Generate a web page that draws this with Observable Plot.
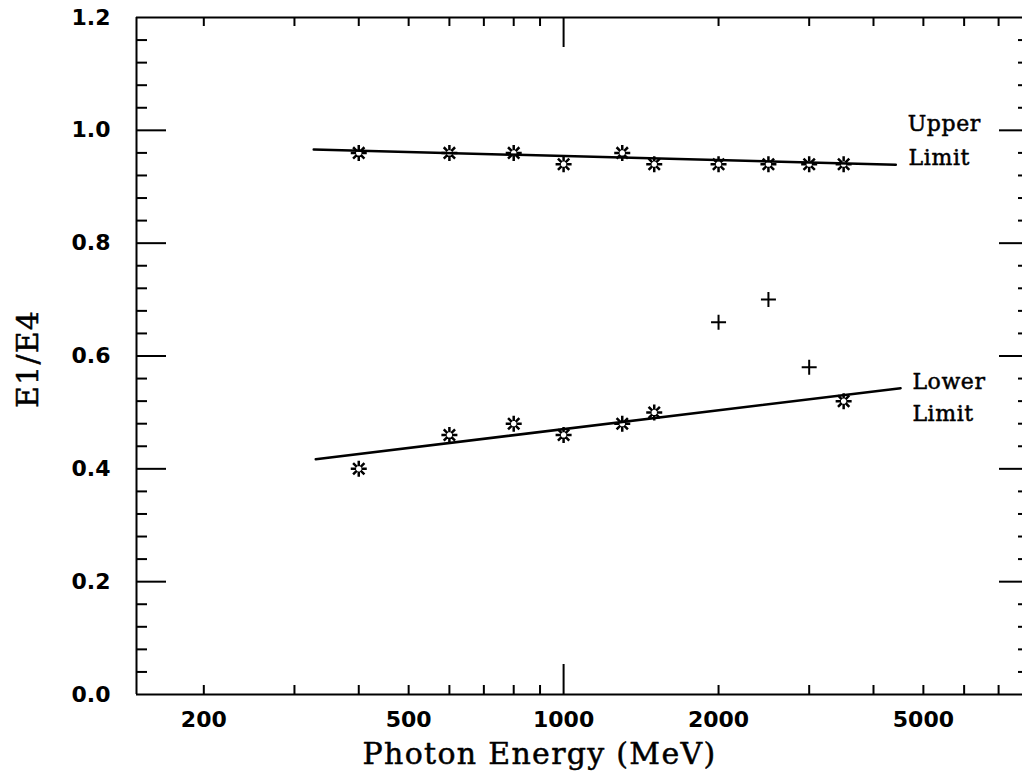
<!DOCTYPE html>
<html><head><meta charset="utf-8">
<script src="https://cdn.jsdelivr.net/npm/d3@7"></script>
<script src="https://cdn.jsdelivr.net/npm/@observablehq/plot@0.6"></script>
<style>html,body{margin:0;padding:0;background:#fff;overflow:hidden;}</style>
</head><body><div id="chart"></div>
<script>
// Data
const upperEnergy = [400, 600, 800, 1000, 1300, 1500, 2000, 2500, 3000, 3500];
const upperRatio  = [0.96, 0.96, 0.96, 0.94, 0.96, 0.94, 0.94, 0.94, 0.94, 0.94];
const lowerEnergy = [400, 600, 800, 1000, 1300, 1500, 3500];
const lowerRatio  = [0.40, 0.46, 0.48, 0.46, 0.48, 0.50, 0.52];
const plusEnergy  = [2000, 2500, 3000];
const plusRatio   = [0.66, 0.70, 0.58];
const upperFitEnergy = [327, 4420];
const upperFitRatio  = [0.966, 0.939];
const lowerFitEnergy = [330, 4515];
const lowerFitRatio  = [0.417, 0.543];
const xDomain = [148, 7790];
const yDomain = [0, 1.2];
const xTickLabels = [200, 500, 1000, 2000, 5000];
const yTickLabels = [0, 0.2, 0.4, 0.6, 0.8, 1.0, 1.2];
const xMinorTicks = [200, 300, 400, 500, 600, 700, 800, 900, 2000, 3000, 4000, 5000, 6000, 7000];
const xMajorTicks = [1000];
const yMinorTicks = [0.04, 0.08, 0.12, 0.16, 0.24, 0.28, 0.32, 0.36, 0.44, 0.48, 0.52, 0.56,
                     0.64, 0.68, 0.72, 0.76, 0.84, 0.88, 0.92, 0.96, 1.04, 1.08, 1.12, 1.16];
const yMajorTicks = [0.2, 0.4, 0.6, 0.8, 1.0];
const labelText   = ["Upper", "Limit", "Lower", "Limit"];
const labelEnergy = [4660, 4680, 4760, 4760];
const labelRatio  = [0.998, 0.938, 0.542, 0.484];
const xTitle = "Photon Energy (MeV)";
const yTitle = "E1/E4";

const W = 1022, H = 775, ML = 136, MR = 0, MT = 17, MB = 81;
const PW = W - ML - MR, PH = H - MT - MB;

const upper = upperEnergy.map((e, i) => ({e, r: upperRatio[i]}));
const lower = lowerEnergy.map((e, i) => ({e, r: lowerRatio[i]}));
const plusPts = plusEnergy.map((e, i) => ({e, r: plusRatio[i]}));
const upperFit = upperFitEnergy.map((e, i) => ({e, r: upperFitRatio[i]}));
const lowerFit = lowerFitEnergy.map((e, i) => ({e, r: lowerFitRatio[i]}));
const labels = labelText.map((t, i) => ({t, e: labelEnergy[i], r: labelRatio[i]}));

const asterisk = {draw(ctx, size) {
  const r = Math.sqrt(size / Math.PI), r0 = r * 0.33;
  for (let k = 0; k < 8; k++) {
    const a = k * Math.PI / 4;
    ctx.moveTo(r0 * Math.cos(a), r0 * Math.sin(a));
    ctx.lineTo(r * Math.cos(a), r * Math.sin(a));
  }
}};
const plusSym = {draw(ctx, size) {
  const r = Math.sqrt(size / Math.PI);
  ctx.moveTo(-r, 0); ctx.lineTo(r, 0);
  ctx.moveTo(0, -r); ctx.lineTo(0, r);
}};

const serif = "DejaVu Serif";
const ink = {stroke: "black", strokeWidth: 2};

const chart = Plot.plot({
  width: W, height: H,
  marginLeft: ML, marginRight: MR, marginTop: MT, marginBottom: MB,
  style: {fontFamily: "DejaVu Sans", fontSize: "22px", fontWeight: "bold", maxWidth: "none", background: "#fff", color: "#000"},
  x: {type: "log", domain: xDomain, ticks: xTickLabels, tickSize: 0, tickPadding: 17, tickFormat: d => String(d), label: null},
  y: {domain: yDomain, ticks: yTickLabels, tickSize: 0, tickPadding: 26, tickFormat: d => d.toFixed(1), label: null},
  marks: [
    // frame: left, bottom, top (right edge lies beyond the picture)
    Plot.ruleX([xDomain[0]], {...ink}),
    Plot.ruleY(yDomain, {...ink}),
    // x ticks (inside, bottom and top)
    Plot.tickX(xMinorTicks, {x: d => d, insetTop: PH - 9, ...ink}),
    Plot.tickX(xMinorTicks, {x: d => d, insetBottom: PH - 9, ...ink}),
    Plot.tickX(xMajorTicks, {x: d => d, insetTop: PH - 30, ...ink}),
    Plot.tickX(xMajorTicks, {x: d => d, insetBottom: PH - 30, ...ink}),
    // y ticks (inside, left and right)
    Plot.tickY(yMinorTicks, {y: d => d, insetRight: PW - 11, ...ink}),
    Plot.tickY(yMinorTicks, {y: d => d, insetLeft: PW - 4, ...ink}),
    Plot.tickY(yMajorTicks, {y: d => d, insetRight: PW - 30, ...ink}),
    Plot.tickY(yMajorTicks, {y: d => d, insetLeft: PW - 23, ...ink}),
    // fits
    Plot.line(upperFit, {x: "e", y: "r", stroke: "black", strokeWidth: 2.5}),
    Plot.line(lowerFit, {x: "e", y: "r", stroke: "black", strokeWidth: 2.5}),
    // points
    Plot.dot(upper, {x: "e", y: "r", symbol: asterisk, r: 8, fill: "none", stroke: "black", strokeWidth: 2.5}),
    Plot.dot(lower, {x: "e", y: "r", symbol: asterisk, r: 8, fill: "none", stroke: "black", strokeWidth: 2.5}),
    Plot.dot(plusPts, {x: "e", y: "r", symbol: plusSym, r: 7.5, fill: "none", stroke: "black", strokeWidth: 2}),
    // annotations and titles
    Plot.text(labels, {x: "e", y: "r", text: "t", textAnchor: "start", lineAnchor: "bottom",
      fontFamily: serif, fontSize: 22, fontWeight: "normal", fill: "black", stroke: "black", strokeWidth: 0.5}),
    Plot.text([xTitle], {text: d => d, frameAnchor: "bottom", dx: -40, dy: 69, lineAnchor: "bottom",
      fontFamily: serif, fontSize: 30, fontWeight: "normal", fill: "black", stroke: "black", strokeWidth: 0.5}),
    Plot.text([yTitle], {text: d => d, frameAnchor: "left", dx: -108, dy: 52, rotate: -90,
      fontFamily: serif, fontSize: 30, fontWeight: "normal", fill: "black", stroke: "black", strokeWidth: 0.5})
  ]
});
d3.select(chart).selectAll("text").each(function() {
  const t = this.textContent;
  if (t === xTitle) this.setAttribute("letter-spacing", "1.3");
  else if (t === yTitle) this.setAttribute("letter-spacing", "1.2");
  else if (labelText.includes(t)) this.setAttribute("letter-spacing", "0.6");
});
document.getElementById("chart").appendChild(chart);
</script>
</body></html>
